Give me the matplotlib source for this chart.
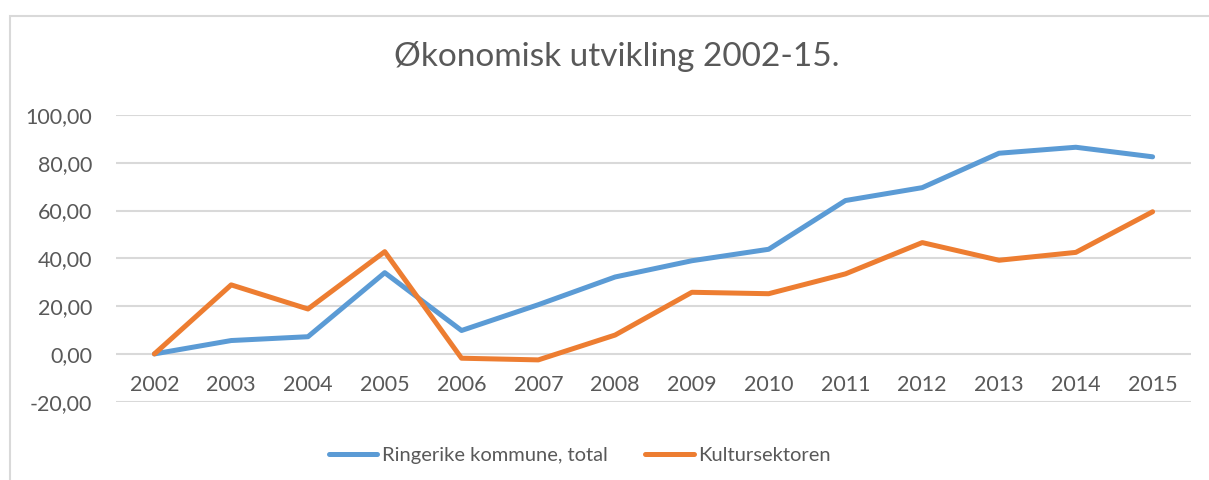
import matplotlib.pyplot as plt
from matplotlib.patches import Rectangle

years = ['2002', '2003', '2004', '2005', '2006', '2007', '2008',
         '2009', '2010', '2011', '2012', '2013', '2014', '2015']
ringerike = [0.0, 5.6, 7.2, 34.0, 9.8, 20.6, 32.2, 39.0, 43.8, 64.2, 69.6, 84.0, 86.5, 82.5]
kultur = [0.0, 28.9, 18.8, 42.8, -1.8, -2.5, 7.9, 25.8, 25.2, 33.5, 46.6, 39.2, 42.5, 59.5]
yticks = [-20, 0, 20, 40, 60, 80, 100]
ytick_labels = ['-20,00', '0,00', '20,00', '40,00', '60,00', '80,00', '100,00']

text_col = '#595959'
grid_col = '#D9D9D9'
plt.rcParams['font.family'] = ['Lato', 'DejaVu Sans']

fig = plt.figure(figsize=(12.09, 4.8), dpi=100)
fig.patches.append(Rectangle((10 / 1209, -0.1), 1.2, 1 - 16 / 480 + 0.1,
                             transform=fig.transFigure, fill=False,
                             edgecolor=grid_col, linewidth=1.5))

ax = fig.add_axes([116 / 1209, 1 - 401.7 / 480, (1191 - 116) / 1209, (401.7 - 115) / 480])
x = list(range(len(years)))
ax.plot(x, ringerike, color='#5B9BD5', linewidth=3.6, label='Ringerike kommune, total',
        solid_capstyle='round', solid_joinstyle='round', zorder=3)
ax.plot(x, kultur, color='#ED7D31', linewidth=3.6, label='Kultursektoren',
        solid_capstyle='round', solid_joinstyle='round', zorder=3)

ax.set_xlim(-0.5, len(years) - 0.5)
ax.set_ylim(-20, 100)
ax.set_yticks(yticks)
ax.set_yticklabels(ytick_labels)
ax.yaxis.grid(True, color=grid_col, linewidth=1.5)
ax.set_axisbelow(True)
for s in ax.spines.values():
    s.set_visible(False)
ax.spines['bottom'].set_position(('data', 0))
ax.set_xticks(x)
ax.set_xticklabels(years)
ax.tick_params(axis='both', length=0, colors=text_col, labelsize=15.5)
ax.tick_params(axis='y', pad=17)
ax.tick_params(axis='x', pad=15)

fig.text(617 / 1209, 1 - 57 / 480, 'Økonomisk utvikling 2002-15.', ha='center', va='center',
         fontsize=24, color=text_col)

leg = fig.legend(loc='center', bbox_to_anchor=(580 / 1209, 1 - 455 / 480), ncol=2,
                 frameon=False, fontsize=14.5, handlelength=2.4, columnspacing=1.85,
                 handletextpad=0.25)
for t in leg.get_texts():
    t.set_color(text_col)

fig.savefig('out.png', dpi=100)
